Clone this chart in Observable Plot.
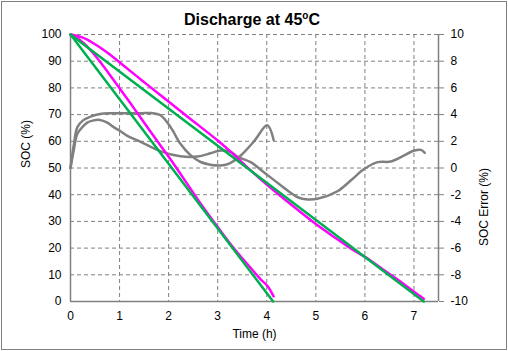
<!DOCTYPE html>
<html>
<head>
<meta charset="utf-8">
<script src="https://cdn.jsdelivr.net/npm/d3@7"></script>
<script src="https://cdn.jsdelivr.net/npm/@observablehq/plot@0.6"></script>
<style>
  html, body { margin: 0; padding: 0; background: #fff; }
  #wrap { position: relative; width: 508px; height: 351px; overflow: hidden; font-family: "Liberation Sans", Arial, sans-serif; }
  #border { position: absolute; left: 1px; top: 1px; width: 506px; height: 349px; box-sizing: border-box; border: 1px solid #808080; pointer-events: none; }
  #title { position: absolute; left: 0; width: 504px; top: 11px; text-align: center; font-weight: bold; font-size: 16px; color: #000; line-height: 18px; }
  #title sup { font-size: 10px; vertical-align: 6px; line-height: 0; }
  svg { position: absolute; left: 0; top: 0; overflow: visible; }
</style>
</head>
<body>
<div id="wrap">
  <div id="chart"></div>
  <div id="title">Discharge at 45<sup>o</sup>C</div>
  <div id="border"></div>
</div>
<script>
// ---- Data ----
const xTicks = [0, 1, 2, 3, 4, 5, 6, 7];
const socTicks = [0, 10, 20, 30, 40, 50, 60, 70, 80, 90, 100];
const errTicks = [-10, -8, -6, -4, -2, 0, 2, 4, 6, 8, 10];

// Fast discharge: reference SOC (green) and estimated SOC (magenta)
const fastRefT = [0, 4.13];
const fastRefSOC = [100, 0];
const fastEstT = [0, 0.1, 0.24, 0.4, 0.61, 0.9, 1.2, 1.43, 1.8, 2.1, 2.4, 2.7, 3.0, 3.3, 3.5, 3.7, 3.87, 4.01, 4.14];
const fastEstSOC = [100, 99.1, 97.2, 94.3, 89.6, 82.4, 74.8, 68.8, 59.3, 51.6, 43.5, 35.4, 27.9, 20.6, 16.2, 12.0, 8.4, 5.9, 1.9];

// Slow discharge: reference SOC (green) and estimated SOC (magenta)
const slowRefT = [0, 7.2];
const slowRefSOC = [100, 0];
const slowEstT = [0, 0.1, 0.24, 0.45, 0.72, 1.06, 1.47, 1.9, 2.4, 3.0, 3.3, 3.6, 3.94, 4.4, 5.0, 5.4, 5.8, 6.0, 6.3, 6.6, 6.9, 7.1, 7.2];
const slowEstSOC = [100, 99.6, 98.9, 96.9, 93.6, 88.7, 82.6, 76.3, 69.0, 60.3, 55.5, 50.3, 44.7, 37.7, 29.0, 23.8, 18.8, 16.7, 12.9, 9.1, 5.1, 2.3, 1.0];

// SOC error (gray), right axis
const fastErrT = [0, 0.07, 0.14, 0.25, 0.41, 0.6, 0.82, 1.1, 1.43, 1.63, 1.84, 2.04, 2.24, 2.44, 2.65, 2.85, 3.05, 3.22, 3.47, 3.74, 4.01, 4.14];
const fastErr = [0, 1.8, 3.06, 3.55, 3.85, 4.05, 4.1, 4.1, 4.1, 4.12, 3.93, 3.06, 1.81, 0.98, 0.45, 0.25, 0.19, 0.31, 0.94, 2.0, 3.2, 2.1];
const slowErrT = [0, 0.07, 0.14, 0.25, 0.34, 0.45, 0.6, 0.75, 0.88, 1.02, 1.15, 1.43, 1.84, 2.24, 2.59, 2.85, 3.06, 3.26, 3.4, 3.67, 3.94, 4.29, 4.63, 4.83, 5.03, 5.44, 5.71, 5.99, 6.26, 6.53, 7.01, 7.14, 7.22];
const slowErr = [0, 1.4, 2.56, 3.1, 3.4, 3.55, 3.6, 3.4, 3.06, 2.75, 2.43, 1.95, 1.25, 0.88, 0.86, 1.1, 1.31, 1.22, 0.85, 0.44, -0.31, -1.31, -2.19, -2.36, -2.31, -1.74, -0.94, -0.06, 0.44, 0.49, 1.31, 1.36, 1.14];

// ---- Build tables ----
const zip = (t, v) => t.map((d, i) => ({t: d, v: v[i]}));
const errToSoc = e => 50 + 5 * e; // right axis (-10..10) shares the left scale (0..100)

const grayC = "#808080", magC = "#ff00ff", greenC = "#00b050";
const dash = "4,3";

const chart = Plot.plot({
  width: 508,
  height: 351,
  marginLeft: 70,
  marginRight: 70,
  marginTop: 34,
  marginBottom: 50,
  style: {fontFamily: "'Liberation Sans', Arial, sans-serif", fontSize: "12px", color: "#000", background: "transparent"},
  x: {domain: [0, 7.5], label: null},
  y: {domain: [0, 100], label: null},
  marks: [
    Plot.gridY(socTicks, {stroke: grayC, strokeOpacity: 1, strokeDasharray: dash}),
    Plot.gridX(xTicks.filter(d => d > 0), {stroke: grayC, strokeOpacity: 1, strokeDasharray: dash}),
    Plot.ruleX([0, 7.5], {stroke: grayC, strokeWidth: 1.5}),
    Plot.ruleY([0], {stroke: grayC, strokeWidth: 1.5}),
    Plot.axisY(socTicks, {anchor: "left", tickSize: 0, tickPadding: 9, label: null, fill: "#000"}),
    Plot.axisY(errTicks.map(errToSoc), {anchor: "right", tickSize: 5, tickPadding: 7, stroke: grayC, fill: "#000",
      tickFormat: d => String(Math.round((d - 50) / 5)), label: null}),
    Plot.axisX(xTicks, {anchor: "bottom", tickSize: 0, tickPadding: 10, label: null, fill: "#000"}),
    // SOC error curves (gray)
    Plot.line(zip(fastErrT, fastErr), {x: "t", y: d => errToSoc(d.v), stroke: grayC, strokeWidth: 2.5, curve: "catmull-rom"}),
    Plot.line(zip(slowErrT, slowErr), {x: "t", y: d => errToSoc(d.v), stroke: grayC, strokeWidth: 2.5, curve: "catmull-rom"}),
    // estimated SOC (magenta)
    Plot.line(zip(fastEstT, fastEstSOC), {x: "t", y: "v", stroke: magC, strokeWidth: 2.5, curve: "catmull-rom"}),
    Plot.line(zip(slowEstT, slowEstSOC), {x: "t", y: "v", stroke: magC, strokeWidth: 2.5, curve: "catmull-rom"}),
    // reference SOC (green)
    Plot.line(zip(fastRefT, fastRefSOC), {x: "t", y: "v", stroke: greenC, strokeWidth: 2.5}),
    Plot.line(zip(slowRefT, slowRefSOC), {x: "t", y: "v", stroke: greenC, strokeWidth: 2.5}),
    // axis titles
    Plot.text(["SOC (%)"], {frameAnchor: "left", dx: -44, rotate: -90, fill: "#000", fontSize: 12}),
    Plot.text(["SOC Error (%)"], {frameAnchor: "right", dx: 46, rotate: -90, fill: "#000", fontSize: 12}),
    Plot.text(["Time (h)"], {frameAnchor: "bottom", dy: 36, fill: "#000", fontSize: 12})
  ]
});
document.getElementById("chart").appendChild(chart);
</script>
</body>
</html>
